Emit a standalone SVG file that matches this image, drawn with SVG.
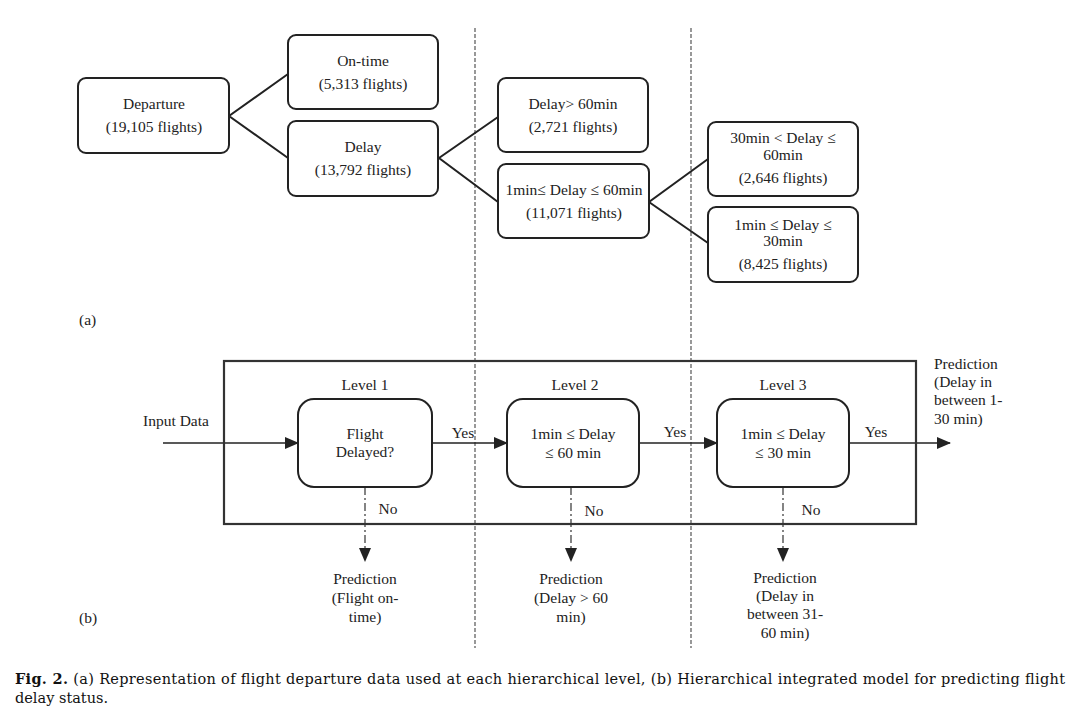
<svg xmlns="http://www.w3.org/2000/svg" width="1091" height="718" viewBox="0 0 1091 718">
<style>
.t{font-family:"Liberation Serif","Times New Roman",serif;font-size:15.5px;fill:#222;text-anchor:middle}
.l{text-anchor:start}
.box{fill:#fff;stroke:#222;stroke-width:2}
.ln{stroke:#222;stroke-width:2;fill:none}
.ar{stroke:#222;stroke-width:1.3;fill:none}
.dd{stroke:#333;stroke-width:1.2;fill:none;stroke-dasharray:8 3 2 3}
.vd{stroke:#555;stroke-width:1.2;fill:none;stroke-dasharray:4 2}
.cap{font-family:"DejaVu Serif","Liberation Serif",serif;font-size:14.5px;fill:#111}
</style>
<defs>
<marker id="ah" markerWidth="14" markerHeight="12" refX="13" refY="6" orient="auto" markerUnits="userSpaceOnUse">
<path d="M0,0 L14,6 L0,12 Z" fill="#222"/>
</marker>
</defs>
<rect width="1091" height="718" fill="#fff"/>
<g id="separators">
<line class="vd" x1="475" y1="28" x2="475" y2="648"/>
<line class="vd" x1="691" y1="28" x2="691" y2="648"/>
</g>
<g id="connectors">
<polyline class="ln" points="288,74 229,116 288,158"/>
<polyline class="ln" points="498,117 439,158 498,202"/>
<polyline class="ln" points="708,159 649,202 708,243"/>
<line class="ar" x1="163" y1="443" x2="298" y2="443" marker-end="url(#ah)"/>
<line class="ar" x1="432" y1="443" x2="507" y2="443" marker-end="url(#ah)"/>
<line class="ar" x1="639" y1="443" x2="717" y2="443" marker-end="url(#ah)"/>
<line class="ar" x1="849" y1="443" x2="950" y2="443" marker-end="url(#ah)"/>
<line class="dd" x1="365" y1="487" x2="365" y2="561" marker-end="url(#ah)"/>
<line class="dd" x1="571" y1="487" x2="571" y2="561" marker-end="url(#ah)"/>
<line class="dd" x1="783" y1="487" x2="783" y2="561" marker-end="url(#ah)"/>
<text class="t" x="463" y="438">Yes</text>
<text class="t" x="675" y="437">Yes</text>
<text class="t" x="876" y="437">Yes</text>
<text class="t" x="388" y="514">No</text>
<text class="t" x="594" y="516">No</text>
<text class="t" x="811" y="515">No</text>
</g>
<g id="departure"><rect class="box" x="78" y="78" width="151" height="75" rx="8"/>
<text class="t" x="154" y="109">Departure</text><text class="t" x="154" y="132">(19,105 flights)</text></g>
<g id="ontime"><rect class="box" x="288" y="35" width="150" height="74" rx="8"/>
<text class="t" x="363" y="66">On-time</text><text class="t" x="363" y="89">(5,313 flights)</text></g>
<g id="delay"><rect class="box" x="288" y="121" width="150" height="75" rx="8"/>
<text class="t" x="363" y="152">Delay</text><text class="t" x="363" y="175">(13,792 flights)</text></g>
<g id="delay60"><rect class="box" x="498" y="78" width="150" height="74" rx="8"/>
<text class="t" x="573" y="109">Delay&gt; 60min</text><text class="t" x="573" y="132">(2,721 flights)</text></g>
<g id="delay1to60"><rect class="box" x="498" y="164" width="151" height="74" rx="8"/>
<text class="t" x="574" y="195">1min≤ Delay ≤ 60min</text><text class="t" x="574" y="218">(11,071 flights)</text></g>
<g id="delay30to60"><rect class="box" x="708" y="122" width="150" height="74" rx="8"/>
<text class="t" x="783" y="143">30min &lt; Delay ≤</text><text class="t" x="783" y="160">60min</text><text class="t" x="783" y="183">(2,646 flights)</text></g>
<g id="delay1to30"><rect class="box" x="708" y="207" width="150" height="75" rx="8"/>
<text class="t" x="783" y="230">1min ≤ Delay ≤</text><text class="t" x="783" y="246">30min</text><text class="t" x="783" y="269">(8,425 flights)</text></g>
<g id="labels">
<text class="t l" x="79" y="325">(a)</text>
<text class="t l" x="79" y="623">(b)</text>
</g>
<g id="model"><rect x="224" y="361" width="692" height="163" fill="none" stroke="#333" stroke-width="2.2"/></g>
<g id="input"><text class="t" x="176" y="426">Input Data</text></g>
<g id="level1"><text class="t" x="365" y="390">Level 1</text>
<rect class="box" x="298" y="399" width="134" height="88" rx="16"/>
<text class="t" x="365" y="439">Flight</text><text class="t" x="365" y="457">Delayed?</text></g>
<g id="level2"><text class="t" x="575" y="390">Level 2</text>
<rect class="box" x="507" y="399" width="132" height="88" rx="16"/>
<text class="t" x="573" y="439">1min ≤ Delay</text><text class="t" x="573" y="458">≤ 60 min</text></g>
<g id="level3"><text class="t" x="783" y="390">Level 3</text>
<rect class="box" x="717" y="399" width="132" height="88" rx="16"/>
<text class="t" x="783" y="439">1min ≤ Delay</text><text class="t" x="783" y="458">≤ 30 min</text></g>
<g id="pred1"><text class="t" x="365" y="584">Prediction</text><text class="t" x="365" y="603">(Flight on-</text><text class="t" x="365" y="622">time)</text></g>
<g id="pred2"><text class="t" x="571" y="584">Prediction</text><text class="t" x="571" y="603">(Delay &gt; 60</text><text class="t" x="571" y="622">min)</text></g>
<g id="pred3"><text class="t" x="785" y="583">Prediction</text><text class="t" x="785" y="601">(Delay in</text><text class="t" x="785" y="619">between 31-</text><text class="t" x="785" y="638">60 min)</text></g>
<g id="pred4"><text class="t l" x="934" y="369">Prediction</text><text class="t l" x="934" y="387">(Delay in</text><text class="t l" x="934" y="405">between 1-</text><text class="t l" x="934" y="424">30 min)</text></g>
<g id="caption">
<text class="cap" x="15" y="684" textLength="1050" lengthAdjust="spacing"><tspan font-weight="bold">Fig. 2.</tspan> (a) Representation of flight departure data used at each hierarchical level, (b) Hierarchical integrated model for predicting flight</text>
<text class="cap" x="15" y="703">delay status.</text>
</g>
</svg>
